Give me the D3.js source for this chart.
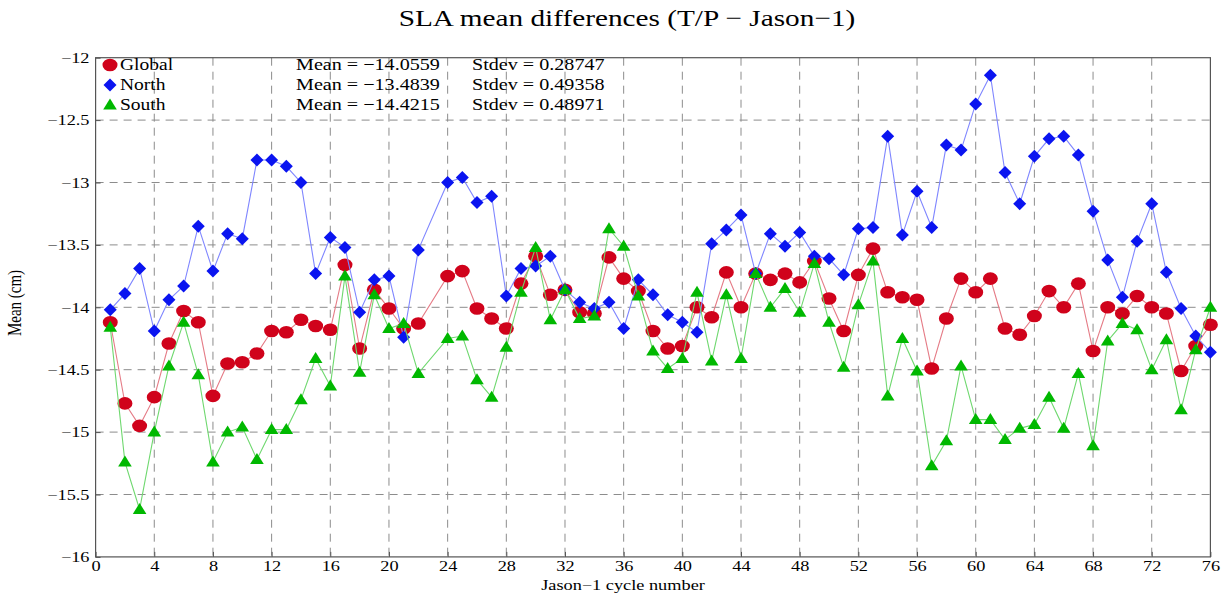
<!DOCTYPE html>
<html>
<head>
<meta charset="utf-8">
<script src="https://cdn.jsdelivr.net/npm/d3@7"></script>
<style>
  body { margin: 0; background: #fff; }
  svg { display: block; }
  svg text { font-family: "Liberation Serif", "DejaVu Serif", serif; fill: #000; }
</style>
</head>
<body>
<div id="chart"></div>
<script>
// cycle 23 is missing in the source
const cycles = d3.range(1, 77)

const globalMean = [
  -14.12, -14.77, -14.95, -14.72, -14.29, -14.03, -14.12, -14.71, -14.45, -14.44,
  -14.37, -14.19, -14.20, -14.10, -14.15, -14.18, -13.66, -14.33, -13.86, -14.01,
  -14.17, -14.13, null, -13.75, -13.71, -14.01, -14.09, -14.17, -13.81, -13.59,
  -13.90, -13.86, -14.04, -14.05, -13.60, -13.77, -13.87, -14.19, -14.33, -14.31,
  -14.00, -14.08, -13.72, -14.00, -13.73, -13.78, -13.73, -13.80, -13.63, -13.93,
  -14.19, -13.74, -13.53, -13.88, -13.92, -13.94, -14.49, -14.09, -13.77, -13.88,
  -13.77, -14.17, -14.22, -14.07, -13.87, -14.00, -13.81, -14.35, -14.00, -14.05,
  -13.91, -14.00, -14.05, -14.51, -14.31, -14.14
]
const northMean = [
  -14.02, -13.89, -13.69, -14.19, -13.94, -13.83, -13.35, -13.71, -13.41, -13.45,
  -12.82, -12.82, -12.87, -13.00, -13.73, -13.44, -13.52, -14.04, -13.78, -13.75,
  -14.24, -13.54, null, -13.00, -12.96, -13.16, -13.11, -13.91, -13.69, -13.67,
  -13.59, -13.86, -13.96, -14.01, -13.96, -14.17, -13.78, -13.90, -14.06, -14.12,
  -14.20, -13.49, -13.38, -13.26, -13.73, -13.41, -13.51, -13.40, -13.59, -13.61,
  -13.74, -13.37, -13.36, -12.63, -13.42, -13.07, -13.36, -12.70, -12.74, -12.37,
  -12.14, -12.92, -13.17, -12.79, -12.65, -12.63, -12.78, -13.23, -13.62, -13.92,
  -13.47, -13.17, -13.72, -14.01, -14.23, -14.36
]
const southMean = [
  -14.16, -15.24, -15.62, -15.00, -14.47, -14.12, -14.54, -15.24, -15.00, -14.96,
  -15.22, -14.98, -14.98, -14.74, -14.41, -14.63, -13.75, -14.52, -13.90, -14.17,
  -14.13, -14.53, null, -14.25, -14.23, -14.58, -14.72, -14.32, -13.88, -13.52,
  -14.10, -13.86, -14.09, -14.07, -13.37, -13.51, -13.91, -14.35, -14.49, -14.41,
  -13.88, -14.43, -13.90, -14.41, -13.73, -14.00, -13.85, -14.04, -13.65, -14.12,
  -14.48, -13.98, -13.63, -14.71, -14.25, -14.51, -15.27, -15.07, -14.47, -14.90,
  -14.90, -15.06, -14.97, -14.94, -14.72, -14.97, -14.53, -15.11, -14.27, -14.13,
  -14.18, -14.50, -14.26, -14.82, -14.34, -14.00
]

const seriesNames = ["Global", "North", "South"]
const statsText = [
  ["Mean = \u221214.0559", "Stdev = 0.28747"],
  ["Mean = \u221213.4839", "Stdev = 0.49358"],
  ["Mean = \u221214.4215", "Stdev = 0.48971"]
]
const xTicks = d3.range(0, 77, 4)
const yTicks = d3.range(-16, -11.99, 0.5)

const width = 1228, height = 593
const margin = { top: 57.7, right: 17.6, bottom: 36.1, left: 95.6 }
const stretch = 1.22  // the original picture is widened a bit

const svg = d3.select("#chart").append("svg")
  .attr("width", width)
  .attr("height", height)

const x = d3.scaleLinear().domain([0, 76]).range([margin.left, width - margin.right])
const y = d3.scaleLinear().domain([-16, -12]).range([height - margin.bottom, margin.top])

function label(tx, ty, str, size, anchor) {
  return svg.append("text")
    .attr("transform", `translate(${tx},${ty}) scale(${stretch},1)`)
    .attr("text-anchor", anchor || "start")
    .attr("font-size", size)
    .text(str)
}

// title
label(627, 26, "SLA mean differences (T/P \u2212 Jason\u22121)", 24, "middle")

// grid
const grid = svg.append("g").attr("stroke", "#8c8c8c").attr("stroke-dasharray", "8,6").attr("stroke-width", 1)
grid.selectAll("line.v").data(xTicks.slice(1, -1)).enter().append("line")
  .attr("x1", d => x(d)).attr("x2", d => x(d))
  .attr("y1", y(-12)).attr("y2", y(-16))
grid.selectAll("line.h").data(yTicks.slice(1, -1)).enter().append("line")
  .attr("x1", x(0)).attr("x2", x(76))
  .attr("y1", d => y(d)).attr("y2", d => y(d))

// axes
svg.append("g")
  .attr("transform", `translate(0,${y(-16)})`)
  .call(d3.axisBottom(x).tickValues(xTicks).tickSize(-5).tickPadding(3))
svg.append("g")
  .attr("transform", `translate(${x(0)},0)`)
  .call(d3.axisLeft(y).tickValues(yTicks).tickSize(-5).tickPadding(5)
    .tickFormat(d => d3.format("")(d).replace("-", "\u2212")))
svg.selectAll(".domain").remove()
svg.selectAll(".tick line").attr("stroke", "#555")
svg.selectAll(".tick text")
  .attr("font-size", 15)
  .attr("transform", `scale(${stretch},1)`)

// frame
svg.append("rect")
  .attr("x", x(0)).attr("y", y(-12))
  .attr("width", x(76) - x(0)).attr("height", y(-16) - y(-12))
  .attr("fill", "none").attr("stroke", "#555").attr("stroke-width", 1.2)

label(623, 590, "Jason\u22121 cycle number", 15, "middle")

svg.append("text")
  .attr("transform", `translate(21,303) scale(${stretch},1) rotate(-90)`)
  .attr("text-anchor", "middle")
  .attr("font-size", 15)
  .text("Mean (cm)")

// markers
const markerPath = {
  Global: (cx, cy) => `M${cx - 7.5},${cy}a7.5,6.3 0 1,0 15,0a7.5,6.3 0 1,0 -15,0Z`,
  North: (cx, cy) => `M${cx},${cy - 6.5}L${cx + 6.5},${cy}L${cx},${cy + 6.5}L${cx - 6.5},${cy}Z`,
  South: (cx, cy) => `M${cx},${cy - 6.5}L${cx + 6.8},${cy + 4.5}L${cx - 6.8},${cy + 4.5}Z`
}
const series = [
  { name: "Global", values: globalMean, color: "#d0021b", line: "#e57b86" },
  { name: "North", values: northMean, color: "#0a14f0", line: "#7f86ff" },
  { name: "South", values: southMean, color: "#00b800", line: "#6fd86f" }
]

const plot = svg.append("g")
series.forEach(s => {
  const pts = cycles.map((c, i) => ({ c, v: s.values[i] })).filter(d => d.v !== null)
  const line = d3.line().x(d => x(d.c)).y(d => y(d.v))
  plot.append("path")
    .datum(pts)
    .attr("d", line)
    .attr("fill", "none")
    .attr("stroke", s.line)
    .attr("stroke-width", 1.1)
  plot.selectAll(null)
    .data(pts)
    .enter().append("path")
    .attr("d", d => markerPath[s.name](x(d.c), y(d.v)))
    .attr("fill", s.color)
})

// legend
seriesNames.forEach((name, i) => {
  const ly = 65 + i * 20
  svg.append("path").attr("d", markerPath[name](110, ly)).attr("fill", series[i].color)
  label(120, ly + 5, name, 16)
  label(296, ly + 5, statsText[i][0], 16.5)
  label(472, ly + 5, statsText[i][1], 16.5)
})
</script>
</body>
</html>
